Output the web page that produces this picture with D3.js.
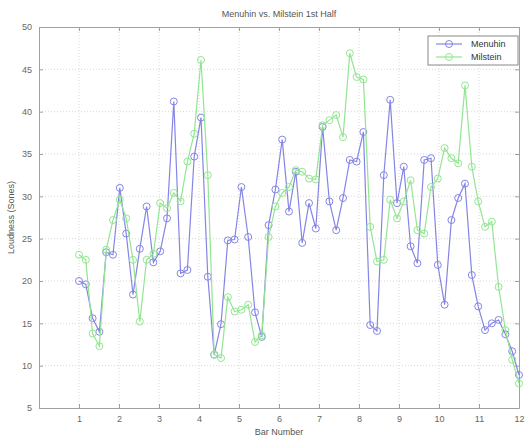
<!DOCTYPE html>
<html>
<head>
<meta charset="utf-8">
<script src="https://cdn.jsdelivr.net/npm/d3@7"></script>
<style>
  body { margin: 0; background: #fff; }
  svg { font-family: "Liberation Sans", Arial, sans-serif; }
</style>
</head>
<body>
<svg id="chart" width="531" height="439"></svg>
<script>
// bar positions (x) shared by both performances
const barNumber = [
  1.00, 1.17, 1.34, 1.51, 1.68, 1.85, 2.02, 2.18, 2.35, 2.52, 2.69, 2.86, 3.03,
  3.20, 3.37, 3.54, 3.71, 3.88, 4.05, 4.22, 4.38, 4.55, 4.72, 4.89, 5.06, 5.23,
  5.40, 5.57, 5.74, 5.91, 6.08, 6.25, 6.42, 6.58, 6.75, 6.92, 7.09, 7.26, 7.43,
  7.60, 7.77, 7.94, 8.11, 8.28, 8.45, 8.62, 8.78, 8.95, 9.12, 9.29, 9.46, 9.63,
  9.80, 9.97, 10.14, 10.31, 10.48, 10.65, 10.82, 10.98, 11.15, 11.32, 11.49,
  11.66, 11.83, 12.00
];
const menuhin = [
  20.0, 19.6, 15.6, 14.0, 23.4, 23.1, 31.0, 25.6, 18.4, 23.8, 28.8, 22.2, 23.5,
  27.4, 41.2, 20.9, 21.3, 34.7, 39.3, 20.5, 11.3, 14.9, 24.8, 24.9, 31.1, 25.2,
  16.3, 13.4, 26.6, 30.8, 36.7, 28.2, 32.9, 24.5, 29.2, 26.2, 38.2, 29.4, 26.0,
  29.8, 34.3, 34.1, 37.6, 14.8, 14.1, 32.5, 41.4, 29.2, 33.5, 24.1, 22.1, 34.3,
  34.5, 21.9, 17.2, 27.2, 29.8, 31.5, 20.7, 17.0, 14.2, 15.0, 15.4, 13.7, 11.7,
  8.9
];
const milstein = [
  23.1, 22.5, 13.8, 12.3, 23.7, 27.2, 29.6, 27.4, 22.5, 15.2, 22.5, 23.2, 29.2,
  28.6, 30.4, 29.4, 34.1, 37.4, 46.1, 32.5, 11.3, 10.9, 18.1, 16.4, 16.6, 17.2,
  12.8, 13.6, 25.2, 28.8, 30.4, 31.1, 33.1, 32.9, 32.1, 32.0, 38.4, 39.0, 39.6,
  37.0, 46.9, 44.1, 43.8, 26.4, 22.3, 22.5, 29.6, 27.4, 29.4, 31.9, 26.0, 25.6,
  31.1, 32.1, 35.7, 34.5, 33.9, 43.1, 33.5, 29.4, 26.4, 27.0, 19.3, 14.2, 10.7,
  7.9
];
const xTicks = [1, 2, 3, 4, 5, 6, 7, 8, 9, 10, 11, 12];
const yTicks = [5, 10, 15, 20, 25, 30, 35, 40, 45, 50];
const seriesNames = ["Menuhin", "Milstein"];
const seriesColors = ["#8585e6", "#92e692"];

const margin = { left: 39, right: 12, top: 27, bottom: 31 };
const W = 531, H = 439;
const svg = d3.select("#chart");

const x = d3.scaleLinear().domain([0, 12]).range([margin.left, W - margin.right]);
const y = d3.scaleLinear().domain([5, 50]).range([H - margin.bottom, margin.top]);

// grid
const grid = svg.append("g").attr("stroke", "#d8d8d8").attr("stroke-dasharray", "1,2");
grid.selectAll("line.gx").data(xTicks.filter(t => t < 12)).enter().append("line")
  .attr("x1", d => x(d)).attr("x2", d => x(d))
  .attr("y1", y(5)).attr("y2", y(50));
grid.selectAll("line.gy").data(yTicks.filter(t => t > 5 && t < 50)).enter().append("line")
  .attr("y1", d => y(d)).attr("y2", d => y(d))
  .attr("x1", x(0)).attr("x2", x(12));

// axes (ticks inward, MATLAB style)
const axisColor = "#a0a0a0";
const styleAxis = g => {
  g.select(".domain").attr("stroke", axisColor);
  g.selectAll(".tick line").attr("stroke", axisColor);
  g.selectAll(".tick text").attr("fill", "#666").attr("font-size", 9);
};
svg.append("g").attr("transform", `translate(0,${y(5)})`)
  .call(d3.axisBottom(x).tickValues(xTicks).tickSizeInner(-4).tickSizeOuter(0).tickPadding(8))
  .call(styleAxis);
svg.append("g").attr("transform", `translate(0,${y(50)})`)
  .call(d3.axisTop(x).tickValues(xTicks).tickSizeInner(-4).tickSizeOuter(0).tickFormat(""))
  .call(styleAxis);
svg.append("g").attr("transform", `translate(${x(0)},0)`)
  .call(d3.axisLeft(y).tickValues(yTicks).tickSizeInner(-4).tickSizeOuter(0).tickPadding(7))
  .call(styleAxis);
svg.append("g").attr("transform", `translate(${x(12)},0)`)
  .call(d3.axisRight(y).tickValues(yTicks).tickSizeInner(-4).tickSizeOuter(0).tickFormat(""))
  .call(styleAxis);

// series
const series = [menuhin, milstein];
const line = d3.line().x((d, i) => x(barNumber[i])).y(d => y(d));
series.forEach((vals, k) => {
  const g = svg.append("g");
  g.append("path").datum(vals)
    .attr("d", line)
    .attr("fill", "none")
    .attr("stroke", seriesColors[k])
    .attr("stroke-width", 1.2);
  g.selectAll("circle").data(vals).enter().append("circle")
    .attr("cx", (d, i) => x(barNumber[i]))
    .attr("cy", d => y(d))
    .attr("r", 3.5)
    .attr("fill", "none")
    .attr("stroke", seriesColors[k])
    .attr("stroke-width", 1);
});

// title and labels
svg.append("text").attr("x", (x(0) + x(12)) / 2).attr("y", 17)
  .attr("text-anchor", "middle").attr("font-size", 9).attr("fill", "#555")
  .text("Menuhin vs. Milstein 1st Half");
svg.append("text").attr("x", (x(0) + x(12)) / 2).attr("y", 435)
  .attr("text-anchor", "middle").attr("font-size", 9).attr("fill", "#555")
  .text("Bar Number");
svg.append("text")
  .attr("transform", `translate(14,${(y(5) + y(50)) / 2}) rotate(-90)`)
  .attr("text-anchor", "middle").attr("font-size", 9).attr("fill", "#555")
  .text("Loudness (Sones)");

// legend
const lg = svg.append("g").attr("transform", "translate(428,36)");
lg.append("rect").attr("width", 90).attr("height", 29)
  .attr("fill", "#fff").attr("stroke", "#888").attr("stroke-width", 1);
seriesNames.forEach((name, k) => {
  const yy = 8 + k * 13;
  lg.append("line").attr("x1", 8).attr("x2", 34).attr("y1", yy).attr("y2", yy)
    .attr("stroke", seriesColors[k]).attr("stroke-width", 1.2);
  lg.append("circle").attr("cx", 21).attr("cy", yy).attr("r", 3.5)
    .attr("fill", "none").attr("stroke", seriesColors[k]);
  lg.append("text").attr("x", 43).attr("y", yy + 3)
    .attr("font-size", 9).attr("fill", "#333").text(name);
});
</script>
</body>
</html>
